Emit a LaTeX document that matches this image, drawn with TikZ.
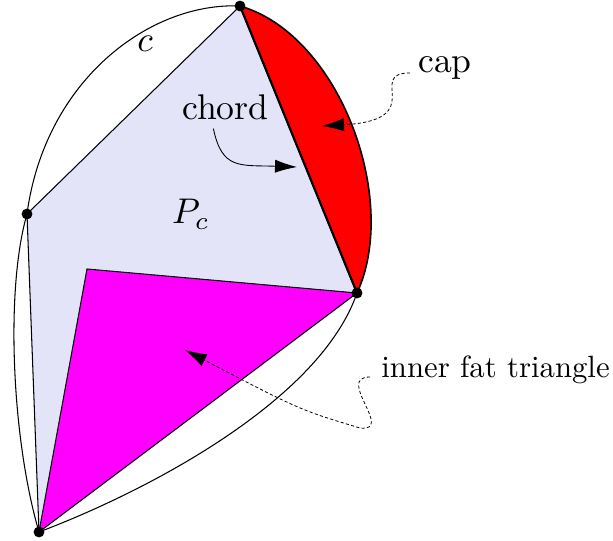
\documentclass[tikz,border=0pt]{standalone}
\usetikzlibrary{arrows.meta,calc}
\definecolor{pcblue}{RGB}{227,228,248}
\definecolor{fatmag}{RGB}{255,0,255}
\tikzset{
  txt/.style={scale=2.03,inner sep=2pt},
  smalltxt/.style={scale=1.75,inner sep=3.4pt},
  pointer/.style={-{Latex[length=12.5pt,width=7.5pt]},line width=0.5pt},
  dotpointer/.style={pointer,line width=0.45pt,dash pattern=on 1.8pt off 1.3pt},
}
\begin{document}
\begin{tikzpicture}[x=0.2mm,y=-0.2mm,line width=0.6pt]
  \useasboundingbox (0,0) rectangle (613,541);
  \coordinate (T) at (240,6);
  \coordinate (L) at (27,214);
  \coordinate (R) at (357,293);
  \coordinate (B) at (39,532);
  \coordinate (I) at (87,269);
  % polygon P_c and the inner triangle
  \fill[pcblue] (T) -- (L) -- (B) -- (R) -- cycle;
  \filldraw[fill=fatmag] (I) -- (B) -- (R) -- cycle;
  \draw (T) -- (L) -- (B);
  % the cap cut off by the chord
  \filldraw[fill=red,line width=0.9pt] (T) .. controls (340,35) and (400,200) .. (R) -- cycle;
  \draw[line width=1.2pt] (T) -- (R);
  % the curve c
  \draw (T) .. controls (150,2) and (45,80) .. (L)
    .. controls (5,290) and (12,440) .. (B)
    .. controls (150,490) and (320,400) .. (R);
  \foreach \p in {T,L,R,B}
    \fill (\p) circle (3.1pt);
  % labels
  \node[txt,anchor=base] (clabel) at (145,52) {$c$};
  \node[txt,anchor=base west] (pc) at (164,224) {$P_c$};
  \node[txt,anchor=base west] (chord) at (174,120) {chord};
  \node[txt,anchor=base west] (cap) at (410,73) {cap};
  \node[smalltxt,anchor=base west] (tri) at (370,377) {inner fat triangle};
  \coordinate (chordtip) at (297,167);
  \coordinate (captip) at (322,126);
  \coordinate (tritip) at (185,350);
  \draw[pointer] ($(chord.south)+(-12,0)$) .. controls (222,170) and (240,165) .. (chordtip);
  \draw[dotpointer] (cap.base west) .. controls (365,73) and (430,120) .. (captip);
  \draw[dotpointer] (tri.base west) .. controls (335,377) and (395,432) .. (360,428)
    .. controls (300,410) .. (tritip);
\end{tikzpicture}
\end{document}
